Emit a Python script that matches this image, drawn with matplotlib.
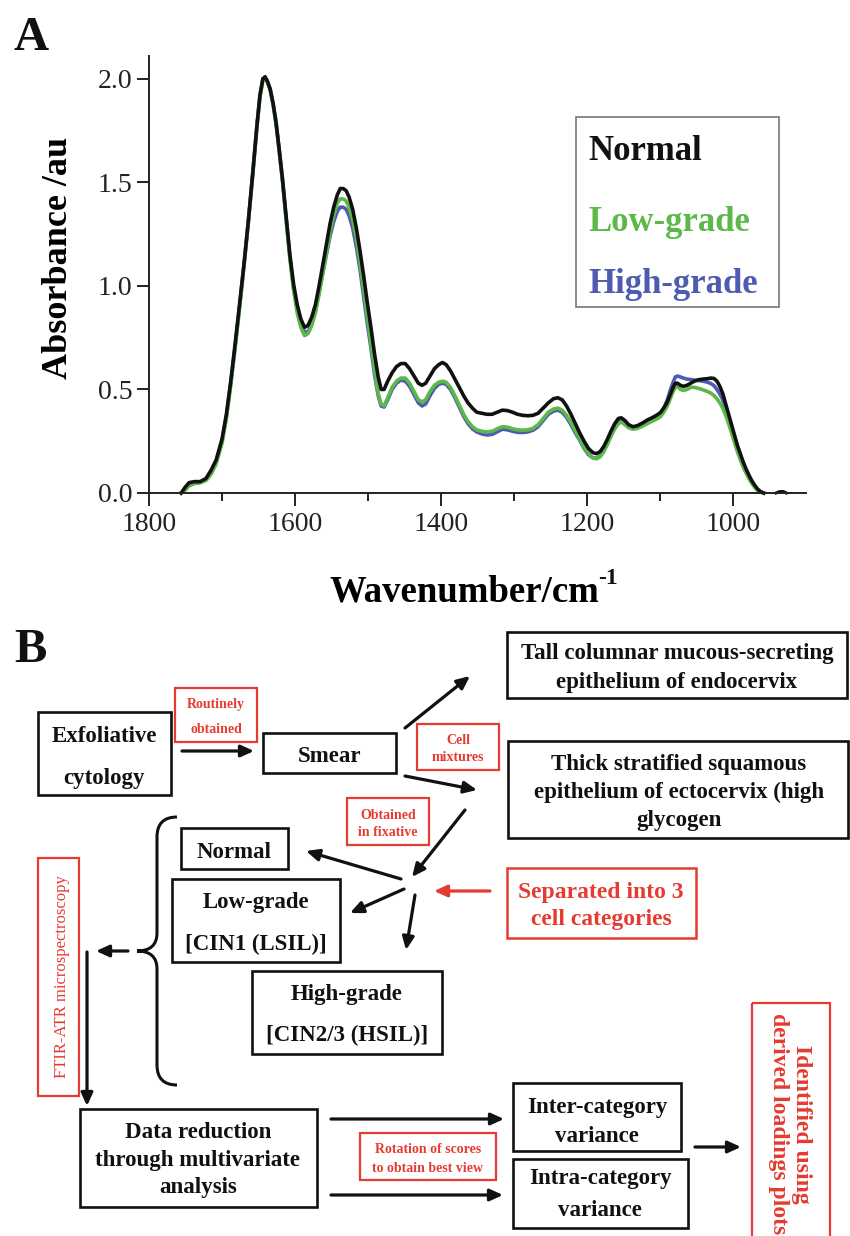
import matplotlib
matplotlib.use('Agg')
import matplotlib.pyplot as plt
from matplotlib.patches import Rectangle, PathPatch
from matplotlib.path import Path

plt.rcParams['font.family'] = ['Liberation Serif', 'DejaVu Serif']

# ---------------- Panel A data ----------------
wavenumber = [1756, 1750, 1745, 1738, 1730, 1722, 1715, 1708, 1700, 1694, 1688, 1682,
              1676, 1670, 1664, 1658, 1652, 1648, 1644, 1641, 1638, 1634, 1630, 1626,
              1622, 1617, 1612, 1607, 1602, 1597, 1592, 1587, 1582, 1577, 1572, 1567,
              1562, 1557, 1552, 1547, 1542, 1538, 1534, 1530, 1526, 1521, 1516, 1511,
              1506, 1501, 1496, 1491, 1486, 1482, 1478, 1473, 1467, 1461, 1455, 1449,
              1443, 1437, 1431, 1426, 1421, 1415, 1409, 1403, 1398, 1393, 1387, 1381,
              1375, 1369, 1363, 1357, 1351, 1344, 1337, 1330, 1323, 1316, 1309, 1302,
              1295, 1288, 1281, 1274, 1267, 1260, 1253, 1246, 1240, 1234, 1228, 1222,
              1216, 1210, 1204, 1198, 1192, 1187, 1182, 1177, 1172, 1167, 1162, 1157,
              1153, 1148, 1143, 1137, 1131, 1124, 1117, 1110, 1104, 1099, 1094, 1090,
              1086, 1082, 1079, 1076, 1072, 1068, 1063, 1058, 1053, 1047, 1041, 1035,
              1030, 1026, 1022, 1018, 1014, 1010, 1006, 1002, 998, 994, 990, 986,
              982, 978, 974, 970, 966, 962, 958]

normal = [0.0, 0.03, 0.05, 0.055, 0.055, 0.07, 0.11, 0.16, 0.26, 0.38, 0.54, 0.72,
          0.91, 1.10, 1.31, 1.54, 1.78, 1.92, 2.00, 2.01, 1.99, 1.95, 1.88, 1.79,
          1.67, 1.51, 1.33, 1.15, 1.01, 0.91, 0.84, 0.80, 0.81, 0.85, 0.91, 1.00,
          1.10, 1.20, 1.30, 1.38, 1.44, 1.47, 1.47, 1.46, 1.43, 1.37, 1.28, 1.17,
          1.05, 0.92, 0.80, 0.67, 0.56, 0.50, 0.50, 0.54, 0.58, 0.61, 0.625, 0.625,
          0.60, 0.565, 0.53, 0.52, 0.53, 0.565, 0.60, 0.62, 0.63, 0.62, 0.59, 0.55,
          0.51, 0.47, 0.435, 0.41, 0.39, 0.385, 0.38, 0.38, 0.39, 0.40, 0.398, 0.39,
          0.38, 0.375, 0.373, 0.375, 0.385, 0.41, 0.435, 0.455, 0.46, 0.45, 0.42, 0.38,
          0.335, 0.29, 0.25, 0.215, 0.195, 0.19, 0.20, 0.225, 0.26, 0.30, 0.335, 0.36,
          0.363, 0.35, 0.33, 0.32, 0.325, 0.338, 0.353, 0.365, 0.377, 0.39, 0.415, 0.44,
          0.475, 0.51, 0.53, 0.53, 0.52, 0.515, 0.52, 0.53, 0.54, 0.547, 0.55, 0.552,
          0.555, 0.553, 0.54, 0.515, 0.48, 0.43, 0.38, 0.33, 0.28, 0.23, 0.19, 0.15,
          0.115, 0.085, 0.058, 0.036, 0.018, 0.006, 0.0]

low_grade = [0.0, 0.015, 0.035, 0.045, 0.05, 0.06, 0.09, 0.14, 0.24, 0.36, 0.52, 0.70,
             0.89, 1.09, 1.30, 1.53, 1.77, 1.91, 1.99, 2.00, 1.985, 1.945, 1.875, 1.78,
             1.66, 1.50, 1.31, 1.13, 0.98, 0.87, 0.80, 0.76, 0.77, 0.81, 0.87, 0.96,
             1.06, 1.16, 1.26, 1.34, 1.40, 1.42, 1.42, 1.41, 1.38, 1.32, 1.23, 1.11,
             0.98, 0.85, 0.72, 0.59, 0.48, 0.43, 0.42, 0.46, 0.51, 0.54, 0.555, 0.555,
             0.53, 0.49, 0.45, 0.44, 0.45, 0.49, 0.52, 0.535, 0.54, 0.535, 0.51, 0.47,
             0.425, 0.38, 0.345, 0.32, 0.305, 0.298, 0.295, 0.298, 0.31, 0.32, 0.318, 0.31,
             0.305, 0.303, 0.305, 0.312, 0.33, 0.36, 0.39, 0.405, 0.41, 0.40, 0.375, 0.34,
             0.30, 0.26, 0.22, 0.19, 0.17, 0.165, 0.175, 0.20, 0.235, 0.275, 0.31, 0.335,
             0.343, 0.33, 0.315, 0.308, 0.312, 0.322, 0.336, 0.348, 0.358, 0.37, 0.395, 0.42,
             0.455, 0.49, 0.51, 0.515, 0.50, 0.495, 0.50, 0.51, 0.51, 0.505, 0.498, 0.49,
             0.482, 0.47, 0.455, 0.435, 0.41, 0.375, 0.335, 0.29, 0.245, 0.20, 0.16, 0.125,
             0.095, 0.068, 0.045, 0.026, 0.012, 0.004, 0.0]

high_grade = [0.0, 0.02, 0.04, 0.05, 0.05, 0.065, 0.10, 0.15, 0.25, 0.37, 0.53, 0.71,
              0.90, 1.10, 1.31, 1.54, 1.78, 1.92, 2.00, 2.00, 1.99, 1.95, 1.88, 1.79,
              1.67, 1.51, 1.32, 1.14, 0.99, 0.89, 0.82, 0.775, 0.78, 0.82, 0.88, 0.97,
              1.06, 1.15, 1.24, 1.31, 1.36, 1.38, 1.38, 1.37, 1.34, 1.28, 1.19, 1.08,
              0.95, 0.82, 0.70, 0.57, 0.47, 0.42, 0.415, 0.45, 0.50, 0.53, 0.545, 0.54,
              0.515, 0.475, 0.435, 0.42, 0.43, 0.47, 0.505, 0.525, 0.53, 0.525, 0.50, 0.46,
              0.415, 0.37, 0.335, 0.31, 0.295, 0.285, 0.28, 0.283, 0.295, 0.308, 0.305, 0.298,
              0.293, 0.292, 0.295, 0.303, 0.32, 0.35, 0.38, 0.395, 0.40, 0.39, 0.365, 0.33,
              0.29, 0.255, 0.215, 0.185, 0.17, 0.168, 0.178, 0.205, 0.24, 0.28, 0.315, 0.34,
              0.348, 0.335, 0.32, 0.312, 0.318, 0.33, 0.345, 0.356, 0.368, 0.385, 0.415, 0.45,
              0.495, 0.535, 0.56, 0.565, 0.56, 0.555, 0.55, 0.548, 0.545, 0.543, 0.54, 0.535,
              0.528, 0.518, 0.50, 0.478, 0.45, 0.41, 0.365, 0.32, 0.27, 0.225, 0.18, 0.14,
              0.105, 0.075, 0.05, 0.03, 0.015, 0.005, 0.0]

tail_wn = [941, 936, 931, 927]
tail_abs = [0.0, 0.007, 0.007, 0.0]

series_names = ['Normal', 'Low-grade', 'High-grade']
series_colors = ['#111111', '#5cb848', '#4e5bb0']

x_major_ticks = [1800, 1600, 1400, 1200, 1000]
x_minor_ticks = [1700, 1500, 1300, 1100]
y_ticks = [0.0, 0.5, 1.0, 1.5, 2.0]
y_tick_labels = ['0.0', '0.5', '1.0', '1.5', '2.0']
x_label_main = 'Wavenumber/cm'
x_label_sup = '-1'
y_label = 'Absorbance /au'

# ---------------- Panel B texts ----------------
txt_exfoliative = ['Exfoliative', 'cytology']
txt_routinely = ['Routinely', 'obtained']
txt_smear = ['Smear']
txt_cell_mix = ['Cell', 'mixtures']
txt_tall = ['Tall columnar mucous-secreting', 'epithelium of endocervix']
txt_thick = ['Thick stratified squamous', 'epithelium of ectocervix (high', 'glycogen']
txt_fixative = ['Obtained', 'in fixative']
txt_normal = ['Normal']
txt_low = ['Low-grade', '[CIN1 (LSIL)]']
txt_high = ['High-grade', '[CIN2/3 (HSIL)]']
txt_separated = ['Separated into 3', 'cell categories']
txt_ftir = 'FTIR-ATR microspectroscopy'
txt_data_red = ['Data reduction', 'through multivariate', 'analysis']
txt_rotation = ['Rotation of scores', 'to obtain best view']
txt_inter = ['Inter-category', 'variance']
txt_intra = ['Intra-category', 'variance']
txt_identified = 'Identified using\nderived loadings plots'

RED = '#e53b30'
BLACK = '#111111'

W, H = 850, 1236
fig = plt.figure(figsize=(W / 100, H / 100), dpi=100)
fig.patch.set_facecolor('white')

# ---------------- Panel A ----------------
ax = fig.add_axes([149 / W, 1 - 493 / H, (806 - 149) / W, (493 - 56) / H])
ax.plot(wavenumber, high_grade, color=series_colors[2], lw=2.6, clip_on=False, solid_joinstyle='round')
ax.plot(wavenumber, low_grade, color=series_colors[1], lw=2.6, clip_on=False, solid_joinstyle='round')
ax.plot(wavenumber, normal, color=series_colors[0], lw=2.6, clip_on=False, solid_joinstyle='round')
ax.plot(tail_wn, tail_abs, color=series_colors[0], lw=2.2, clip_on=False)
ax.set_xlim(1800, 900)
ax.set_ylim(0, 2.11)
for s in ['top', 'right']:
    ax.spines[s].set_visible(False)
for s in ['left', 'bottom']:
    ax.spines[s].set_linewidth(1.4)
    ax.spines[s].set_color('#222222')
ax.set_xticks(x_major_ticks)
ax.set_xticks(x_minor_ticks, minor=True)
ax.set_yticks(y_ticks)
ax.set_yticklabels(y_tick_labels)
ax.tick_params(which='major', direction='out', length=9, width=1.4, labelsize=20,
               color='#222222', labelcolor='#222222')
ax.tick_params(axis='x', which='major', pad=5)
ax.tick_params(axis='y', which='major', pad=3)
ax.tick_params(which='minor', direction='out', length=6, width=1.4, color='#222222')
ax.set_ylabel(y_label, fontsize=26, fontweight='bold', va='center')
ax.yaxis.set_label_coords(-0.137, 0.538)
ax.set_xlabel(x_label_main, fontsize=26.5, fontweight='bold', va='baseline', ha='left')
ax.xaxis.set_label_coords((330 - 149) / 657, -0.2494)
ax.set_facecolor('none')

# ---------------- Overlay (pixel coordinates) ----------------
ov = fig.add_axes([0, 0, 1, 1])
ov.set_xlim(0, W)
ov.set_ylim(H, 0)
ov.axis('off')
ov.patch.set_alpha(0)

# superscript of x label, placed right after the rendered label
fig.canvas.draw()
lab_bb = ax.xaxis.label.get_window_extent(fig.canvas.get_renderer())
ov.text(lab_bb.x1 - 2, 584, x_label_sup, fontsize=17, fontweight='bold',
        ha='left', va='baseline', color=BLACK)

# legend box for panel A
ov.add_patch(Rectangle((576, 117), 779 - 576, 307 - 117, fill=False, ec='#777777', lw=1.2))
for name, col, yb in zip(series_names, series_colors, [160, 231, 293]):
    ov.text(588, yb, name, color=col, fontsize=25, fontweight='bold', va='baseline', ha='left')

ov.text(14, 50, 'A', fontsize=35, fontweight='bold', va='baseline', ha='left', color=BLACK)
ov.text(14, 662, 'B', fontsize=35, fontweight='bold', va='baseline', ha='left', color=BLACK)


def box(x0, y0, x1, y1, color=BLACK, lw=1.9):
    ov.add_patch(Rectangle((x0, y0), x1 - x0, y1 - y0, fill=False, ec=color, lw=lw,
                           joinstyle='miter'))


def lines(xc, baselines, texts, size=16.5, color=BLACK, weight='bold'):
    for t, b in zip(texts, baselines):
        ov.text(xc, b, t, ha='center', va='baseline', fontsize=size, color=color,
                fontweight=weight)


def arrow(x0, y0, x1, y1, color=BLACK, lw=2.3):
    ov.annotate('', xy=(x1, y1), xytext=(x0, y0),
                arrowprops=dict(arrowstyle='-|>,head_length=0.55,head_width=0.25',
                                color=color, lw=lw, shrinkA=0, shrinkB=0,
                                mutation_scale=14))


# boxes (black)
box(38, 712, 171, 795); lines(104, [742, 784], txt_exfoliative)
box(263, 733, 396, 773); lines(330, [762], txt_smear)
box(507, 632, 847, 698); lines(677, [659, 688], txt_tall)
box(508, 741, 848, 838); lines(679, [770, 798, 826], txt_thick)
box(181, 828, 288, 869); lines(234, [858], txt_normal)
box(172, 879, 340, 962); lines(256, [908, 950], txt_low)
box(252, 971, 442, 1054); lines(347, [1000, 1041], txt_high)
box(80, 1109, 317, 1207); lines(198, [1138, 1166, 1193], txt_data_red)
box(513, 1083, 681, 1151); lines(597, [1113, 1142], txt_inter)
box(513, 1159, 688, 1228); lines(600, [1184, 1216], txt_intra)

# red boxes
box(175, 688, 257, 742, color=RED, lw=1.6); lines(216, [708, 733], txt_routinely, size=10, color=RED)
box(417, 724, 499, 770, color=RED, lw=1.6); lines(458, [744, 761], txt_cell_mix, size=10, color=RED)
box(347, 798, 429, 845, color=RED, lw=1.6); lines(388, [819, 836], txt_fixative, size=10, color=RED)
box(360, 1133, 496, 1180, color=RED, lw=1.6); lines(428, [1153, 1172], txt_rotation, size=10, color=RED)
box(507, 868, 696, 938, color=RED, lw=1.8); lines(601, [898, 925], txt_separated, size=17, color=RED)
box(38, 858, 79, 1096, color=RED, lw=1.6)
ov.text(62, 977, txt_ftir, rotation=90, ha='center', va='center', fontsize=12, color=RED)
box(752, 1003, 830, 1245, color=RED, lw=1.6)
ov.text(790, 1124, txt_identified, rotation=270, ha='center', va='center', fontsize=17,
        color=RED, fontweight='bold', multialignment='center', linespacing=1.15)

# arrows
arrow(182, 751, 254, 751)
arrow(405, 728, 470, 676)
arrow(405, 776, 477, 790)
arrow(465, 810, 412, 877)
arrow(401, 879, 306, 851)
arrow(404, 889, 350, 913)
arrow(415, 895, 406, 950)
arrow(490, 891, 434, 891, color=RED)
arrow(128, 951, 96, 951)
arrow(87, 952, 87, 1106)
arrow(331, 1119, 504, 1119)
arrow(331, 1195, 503, 1195)
arrow(695, 1147, 741, 1147)

# curly brace
verts = [(177, 817), (157, 817), (157, 837), (157, 933), (157, 951), (137, 951),
         (157, 951), (157, 969), (157, 1065), (157, 1085), (177, 1085)]
codes = [Path.MOVETO, Path.CURVE3, Path.CURVE3, Path.LINETO, Path.CURVE3, Path.CURVE3,
         Path.CURVE3, Path.CURVE3, Path.LINETO, Path.CURVE3, Path.CURVE3]
ov.add_patch(PathPatch(Path(verts, codes), fill=False, ec=BLACK, lw=2.2))

fig.savefig('out.png', dpi=100, facecolor='white')
